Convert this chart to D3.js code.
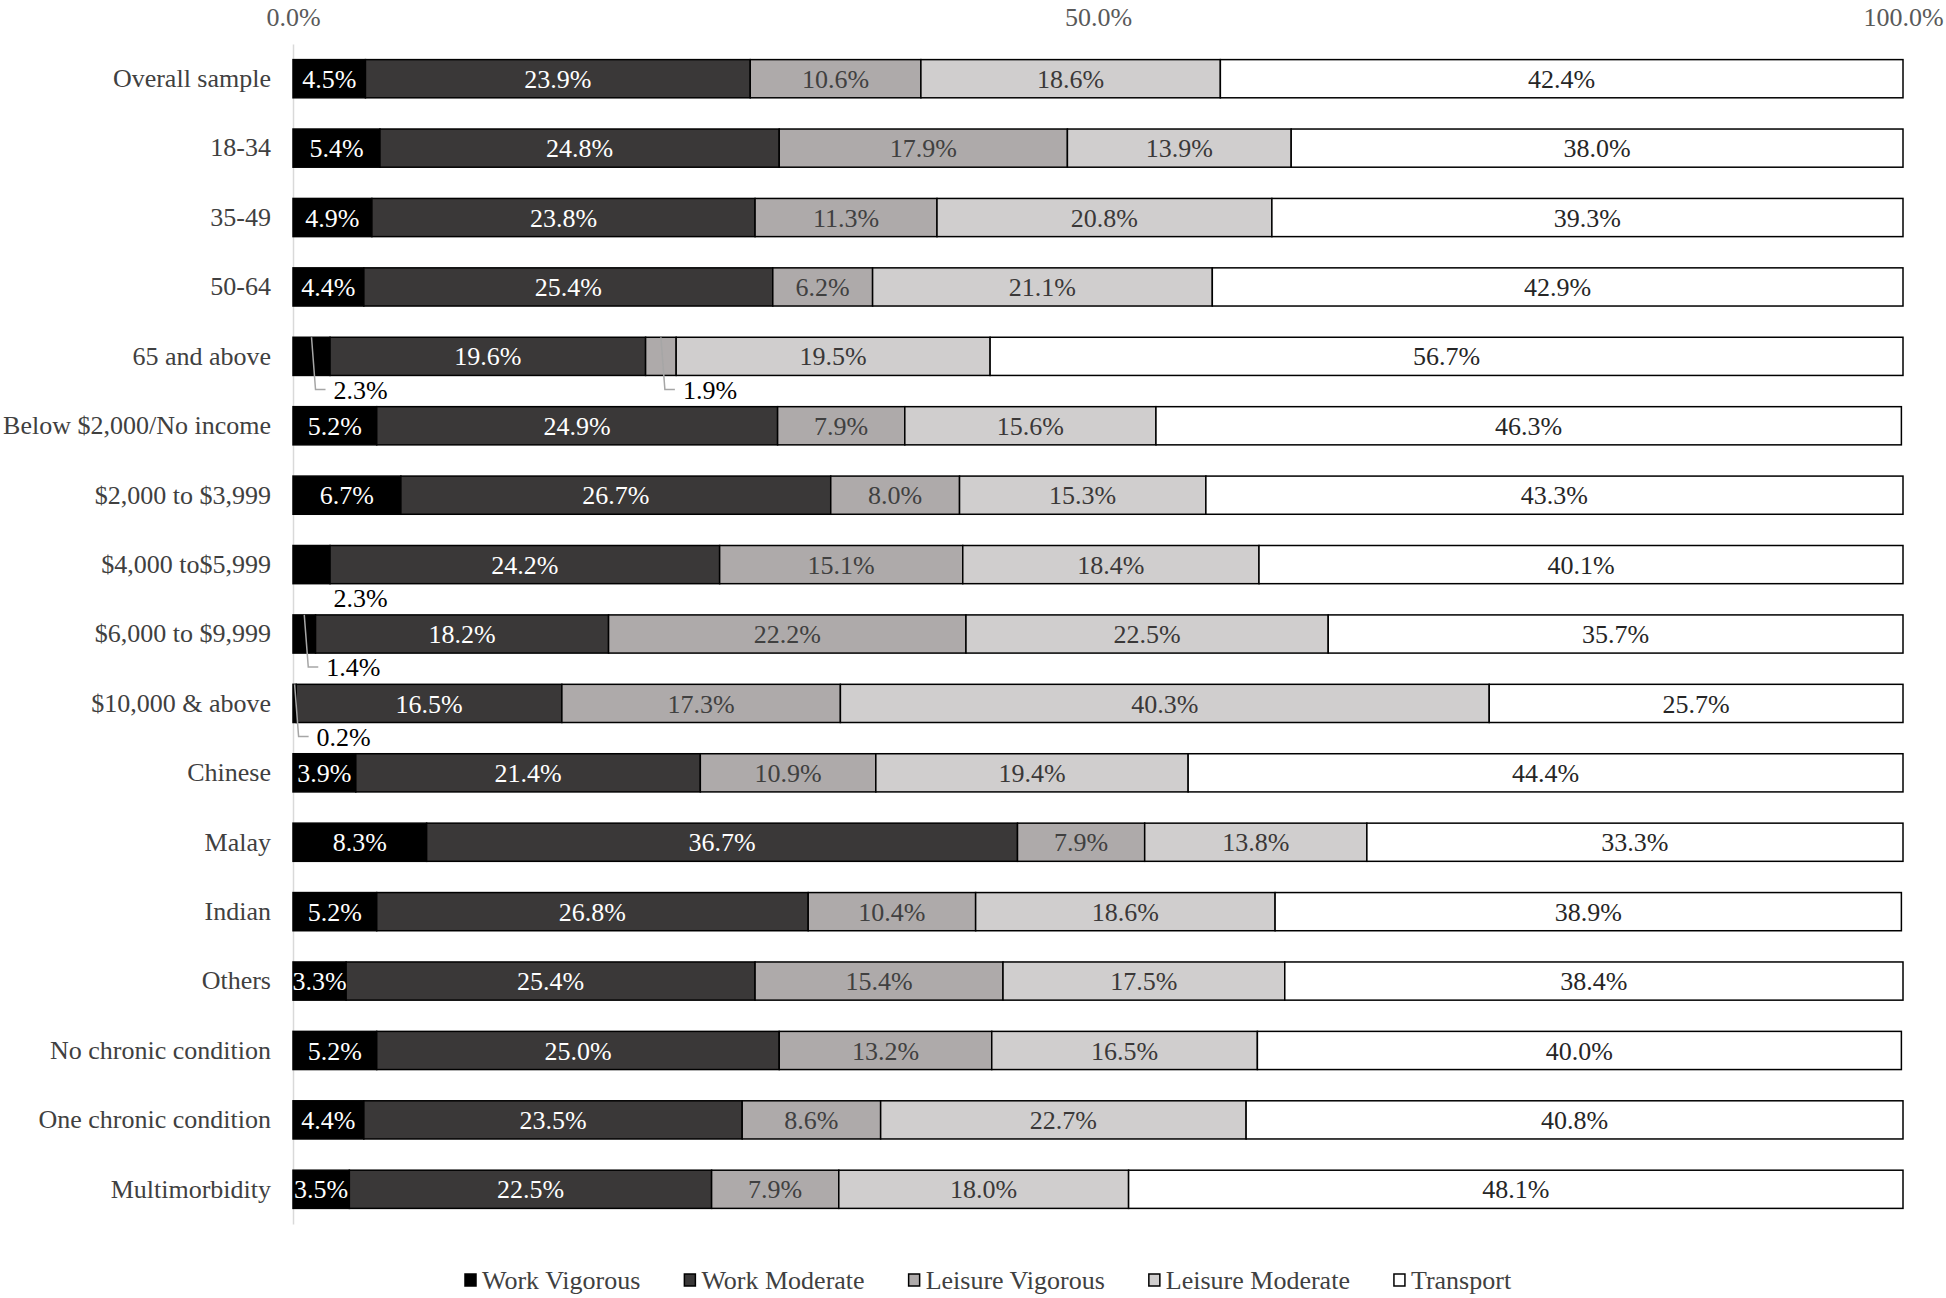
<!DOCTYPE html>
<html>
<head>
<meta charset="utf-8">
<script src="https://cdn.jsdelivr.net/npm/d3@7"></script>
<style>
  html, body { margin: 0; padding: 0; background: #fff; }
  svg { display: block; }
  text { font-family: "Liberation Serif", "Times New Roman", serif; }
</style>
</head>
<body>
<svg id="chart" width="1946" height="1298"></svg>
<script>
const categories = [
  "Overall sample", "18-34", "35-49", "50-64", "65 and above",
  "Below $2,000/No income", "$2,000 to $3,999", "$4,000 to$5,999",
  "$6,000 to $9,999", "$10,000 & above", "Chinese", "Malay", "Indian",
  "Others", "No chronic condition", "One chronic condition", "Multimorbidity"
];
const seriesNames = ["Work Vigorous", "Work Moderate", "Leisure Vigorous", "Leisure Moderate", "Transport"];
const workVigorous    = [4.5, 5.4, 4.9, 4.4, 2.3, 5.2, 6.7, 2.3, 1.4, 0.2, 3.9, 8.3, 5.2, 3.3, 5.2, 4.4, 3.5];
const workModerate    = [23.9, 24.8, 23.8, 25.4, 19.6, 24.9, 26.7, 24.2, 18.2, 16.5, 21.4, 36.7, 26.8, 25.4, 25.0, 23.5, 22.5];
const leisureVigorous = [10.6, 17.9, 11.3, 6.2, 1.9, 7.9, 8.0, 15.1, 22.2, 17.3, 10.9, 7.9, 10.4, 15.4, 13.2, 8.6, 7.9];
const leisureModerate = [18.6, 13.9, 20.8, 21.1, 19.5, 15.6, 15.3, 18.4, 22.5, 40.3, 19.4, 13.8, 18.6, 17.5, 16.5, 22.7, 18.0];
const transport       = [42.4, 38.0, 39.3, 42.9, 56.7, 46.3, 43.3, 40.1, 35.7, 25.7, 44.4, 33.3, 38.9, 38.4, 40.0, 40.8, 48.1];
const tickValues = [0, 50, 100];
const tickLabels = ["0.0%", "50.0%", "100.0%"];
// small values labelled outside the bar
const callouts = [
  { category: "65 and above", series: "Work Vigorous", leader: true },
  { category: "65 and above", series: "Leisure Vigorous", leader: true },
  { category: "$4,000 to$5,999", series: "Work Vigorous", leader: false },
  { category: "$6,000 to $9,999", series: "Work Vigorous", leader: true },
  { category: "$10,000 & above", series: "Work Vigorous", leader: true }
];

const FS = 26;
const fills = ["#000000", "#3a3838", "#aeaaaa", "#d0cece", "#ffffff"];
const labelColors = ["#ffffff", "#ffffff", "#404040", "#3a3838", "#262626"];

const seriesArrays = [workVigorous, workModerate, leisureVigorous, leisureModerate, transport];
const rows = categories.map((c, i) => {
  const r = { category: c };
  seriesNames.forEach((s, k) => r[s] = seriesArrays[k][i]);
  return r;
});

const svg = d3.select("#chart");
const x = d3.scaleLinear().domain([0, 100]).range([293, 1903]).clamp(true);
const y = d3.scaleBand().domain(categories).range([44, 1224]).paddingInner(0.45).paddingOuter(0.225);

const stack = d3.stack().keys(seriesNames);
const stacked = stack(rows);

// top axis labels
const xAxis = d3.axisTop(x).tickValues(tickValues)
  .tickFormat((d, i) => tickLabels[i]).tickSize(0).tickPadding(0);
const gx = svg.append("g").attr("transform", "translate(0,26)").call(xAxis);
gx.select(".domain").remove();
gx.selectAll("text").attr("font-size", FS).attr("fill", "#595959")
  .style("font-family", "'Liberation Serif', 'Times New Roman', serif");

// left axis
const yAxis = d3.axisLeft(y).tickSize(0).tickSizeOuter(0).tickPadding(22);
const gy = svg.append("g").attr("transform", `translate(${x(0)},0)`).call(yAxis);
gy.select(".domain").attr("stroke", "#d9d9d9").attr("stroke-width", 1.5);
gy.selectAll("text").attr("font-size", FS).attr("fill", "#404040")
  .style("font-family", "'Liberation Serif', 'Times New Roman', serif");

const isCallout = (cat, ser) => callouts.some(c => c.category === cat && c.series === ser);

// bars
const layers = svg.append("g").selectAll("g").data(stacked).join("g")
  .attr("fill", (d, i) => fills[i]);
layers.selectAll("rect").data(d => d.map(v => ({ v, key: d.key }))).join("rect")
  .attr("x", d => x(d.v[0]))
  .attr("y", d => y(d.v.data.category))
  .attr("width", d => x(d.v[1]) - x(d.v[0]))
  .attr("height", y.bandwidth())
  .attr("stroke", "#000")
  .attr("stroke-width", 1.5);

// inside labels
svg.append("defs").append("clipPath").attr("id", "plotclip")
  .append("rect").attr("x", x(0)).attr("y", 0).attr("width", 1946 - x(0)).attr("height", 1298);
const lab = svg.append("g").attr("clip-path", "url(#plotclip)");
stacked.forEach((layer, k) => {
  lab.selectAll(null).data(layer.filter(v => !isCallout(v.data.category, layer.key))).join("text")
    .attr("x", v => (x(v[0]) + x(v[1])) / 2)
    .attr("y", v => y(v.data.category) + y.bandwidth() / 2)
    .attr("dy", "0.35em")
    .attr("text-anchor", "middle")
    .attr("font-size", FS)
    .attr("fill", labelColors[k])
    .text(v => v.data[layer.key].toFixed(1) + "%");
});

// callouts
const cg = svg.append("g");
callouts.forEach(c => {
  const k = seriesNames.indexOf(c.series);
  const v = stacked[k].find(d => d.data.category === c.category);
  const cx = (x(v[0]) + x(v[1])) / 2;
  const top = y(c.category);
  const ly = top + y.bandwidth() + 14;
  if (c.leader) {
    cg.append("polyline")
      .attr("points", `${cx},${top} ${cx + 4},${ly} ${cx + 14},${ly}`)
      .attr("fill", "none").attr("stroke", "#a6a6a6").attr("stroke-width", 1.5);
  }
  cg.append("text")
    .attr("x", cx + 22).attr("y", ly).attr("dy", "0.35em")
    .attr("font-size", FS).attr("fill", "#000")
    .text(v.data[c.series].toFixed(1) + "%");
});

// legend
const lg = svg.append("g").attr("transform", "translate(0,1280)");
let lx = 465;
seriesNames.forEach((s, i) => {
  lg.append("rect").attr("x", lx).attr("y", -6).attr("width", 11).attr("height", 12)
    .attr("fill", fills[i]).attr("stroke", "#000").attr("stroke-width", 1.5);
  const t = lg.append("text").attr("x", lx + 17).attr("y", 0).attr("dy", "0.35em")
    .attr("font-size", FS).attr("fill", "#404040").text(s);
  lx += 17 + t.node().getComputedTextLength() + 44;
});
</script>
</body>
</html>
